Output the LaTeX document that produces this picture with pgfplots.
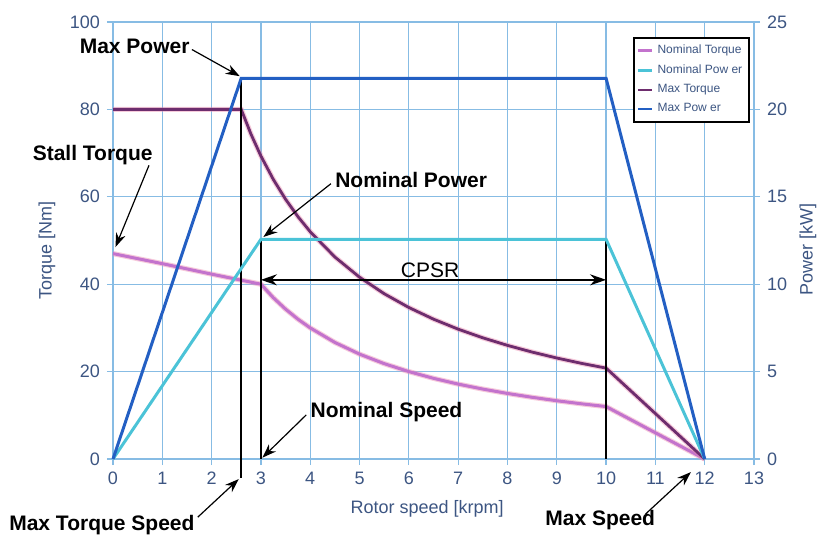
\documentclass[border=0pt]{standalone}
\usepackage{pgfplots}
\pgfplotsset{compat=1.18}
\usepackage{pgfplotstable}
\usepackage{fontspec}
\setmainfont{Liberation Sans}
\usetikzlibrary{arrows.meta}

\definecolor{gridblue}{RGB}{135,188,228}
\definecolor{ticktext}{RGB}{60,85,130}
\definecolor{nomtorque}{RGB}{195,115,205}
\definecolor{nompower}{RGB}{75,195,215}
\definecolor{maxtorque}{RGB}{110,45,110}
\definecolor{maxpower}{RGB}{35,95,195}
\definecolor{halo}{RGB}{235,140,175}

% Torque envelopes [Nm] vs rotor speed [krpm]
\pgfplotstableread{
n T
0 80
2.6 80
2.8 74.29
3 69.33
3.25 64
3.5 59.43
3.75 55.47
4 52
4.5 46.22
5 41.6
5.5 37.82
6 34.67
6.5 32
7 29.71
7.5 27.73
8 26
8.5 24.47
9 23.11
9.5 21.89
10 20.8
12 0
}\maxtorquetab

\pgfplotstableread{
n T
0 47
1 44.7
2 42.3
3 40
3.25 36.92
3.5 34.29
3.75 32
4 30
4.5 26.67
5 24
5.5 21.82
6 20
6.5 18.46
7 17.14
7.5 16
8 15
8.5 14.12
9 13.33
9.5 12.63
10 12
12 0
}\nomtorquetab

% Power envelopes [kW]
\pgfplotstableread{
n P
0 0
2.6 21.78
10 21.78
12 0
}\maxpowertab

\pgfplotstableread{
n P
0 0
3 12.57
10 12.57
12 0
}\nompowertab

\pgfplotsset{
  motorax/.style={
    scale only axis, width=320.5pt, height=218.5pt,
    at={(56.5pt,40.5pt)}, anchor=south west,
    xmin=0, xmax=13, clip=false,
    /pgf/number format/assume math mode=true,
    ticklabel style={font=\fontsize{9}{10}\selectfont, text=ticktext},
    label style={font=\fontsize{9}{10}\selectfont, text=ticktext},
    tick align=outside, major tick length=3pt,
    every tick/.style={gridblue, line width=0.6pt},
    axis line style={gridblue, line width=0.7pt},
  },
}
\tikzset{ann/.style={-{Stealth[length=7pt,width=5pt]}, line width=0.6pt, black}}
\newcommand{\annfont}{\fontsize{10.5}{12}\selectfont\bfseries}

\begin{document}
\begin{tikzpicture}
\path[use as bounding box] (0,0) rectangle (409pt,270pt);

\begin{axis}[motorax,
  ymin=0, ymax=100,
  xtick={0,1,...,13}, ytick={0,20,...,100},
  xtick pos=bottom, ytick pos=left,
  grid=major, grid style={gridblue, line width=0.6pt},
  xlabel={Rotor speed [krpm]},
  xlabel style={at={(axis description cs:0.49,-0.114)}, anchor=center},
  ylabel={Torque [Nm]},
  ylabel style={at={(axis description cs:-0.103,0.478)}, anchor=center},
]
\addplot[halo, line width=2.6pt, opacity=0.45] table[x=n,y=T] {\nomtorquetab};
\addplot[nomtorque, line width=1.5pt] table[x=n,y=T] {\nomtorquetab};
\addplot[halo, line width=2.6pt, opacity=0.45] table[x=n,y=T] {\maxtorquetab};
\addplot[maxtorque, line width=1.4pt] table[x=n,y=T] {\maxtorquetab};

% speed markers
\draw[line width=0.9pt] (axis cs:2.6,87.1) -- (axis cs:2.6,-4.4);
\draw[line width=0.9pt] (axis cs:3,50.3) -- (axis cs:3,0);
\draw[line width=0.9pt] (axis cs:10,50.3) -- (axis cs:10,0);

% constant power speed range
\draw[{Stealth[length=8pt,width=5.5pt]}-{Stealth[length=8pt,width=5.5pt]}, line width=0.9pt]
  (axis cs:3,41) -- (axis cs:10,41);
\node[font=\fontsize{10.5}{12}\selectfont, inner sep=0pt] at (axis cs:6.43,43.3) {CPSR};

% annotations
\node[anchor=east, font=\annfont, inner sep=0pt] at (axis cs:1.56,94.4) {Max Power};
\draw[ann] (axis cs:1.6,93.7) -- (axis cs:2.57,87.6);
\node[anchor=east, font=\annfont, inner sep=0pt] at (axis cs:0.81,69.6) {Stall Torque};
\draw[ann] (axis cs:0.73,67.2) -- (axis cs:0.05,48.5);
\node[anchor=west, font=\annfont, inner sep=0pt] at (axis cs:4.5,63.9) {Nominal Power};
\draw[ann] (axis cs:4.42,63.0) -- (axis cs:3.05,50.8);
\node[anchor=west, font=\annfont, inner sep=0pt] at (axis cs:4.0,10.8) {Nominal Speed};
\draw[ann] (axis cs:3.92,10.1) -- (axis cs:3.03,0.3);
\node[anchor=east, font=\annfont, inner sep=0pt] at (axis cs:1.66,-15.1) {Max Torque Speed};
\draw[ann] (axis cs:1.72,-13.3) -- (axis cs:2.55,-4.6);
\node[anchor=west, font=\annfont, inner sep=0pt] at (axis cs:8.76,-14.0) {Max Speed};
\draw[ann] (axis cs:10.8,-12.6) -- (axis cs:11.72,-3.0);
\end{axis}

\begin{axis}[motorax,
  ymin=0, ymax=25, ytick={0,5,...,25},
  axis x line=none, axis y line*=right,
  ylabel={Power [kW]},
  ylabel style={at={(axis description cs:1.084,0.48)}, anchor=center},
  legend cell align=left,
  legend image code/.code={\draw[#1, line width=1.2pt] (0pt,0pt) -- (7pt,0pt);},
  legend style={at={(1,1)}, anchor=north east, xshift=-2pt, yshift=-7.5pt,
    draw=black, line width=0.8pt, fill=white,
    font=\fontsize{6}{6.5}\selectfont, text=ticktext,
    row sep=0pt, inner xsep=1.5pt, inner ysep=1.5pt},
]
\addlegendimage{nomtorque}
\addlegendentry{Nominal Torque}
\addplot[nompower, line width=1.5pt] table[x=n,y=P] {\nompowertab};
\addlegendentry{Nominal Pow er}
\addlegendimage{maxtorque}
\addlegendentry{Max Torque}
\addplot[maxpower, line width=1.5pt] table[x=n,y=P] {\maxpowertab};
\addlegendentry{Max Pow er}
\end{axis}
\end{tikzpicture}
\end{document}
